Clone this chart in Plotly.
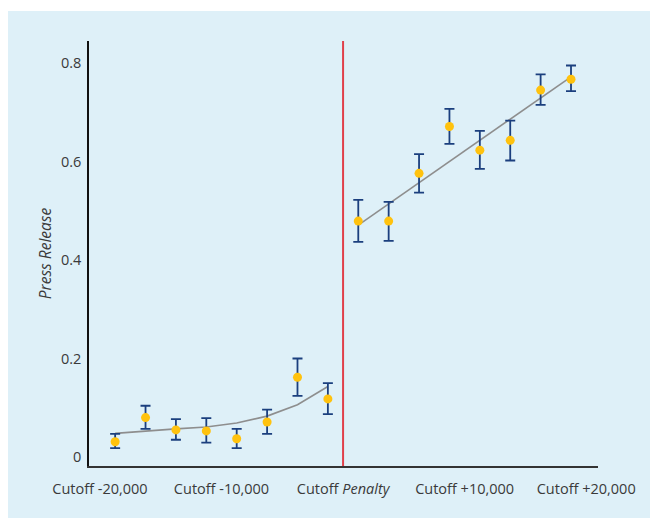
import plotly.graph_objects as go

# bin centres, thousands relative to cutoff
x_left = [-18.75, -16.25, -13.75, -11.25, -8.75, -6.25, -3.75, -1.25]
y_left = [0.031, 0.080, 0.055, 0.053, 0.037, 0.071, 0.162, 0.118]
hi_left = [0.047, 0.104, 0.077, 0.079, 0.057, 0.096, 0.200, 0.150]
lo_left = [0.018, 0.057, 0.035, 0.029, 0.018, 0.047, 0.124, 0.087]
fit_left = [0.048, 0.053, 0.057, 0.061, 0.069, 0.083, 0.106, 0.143]

x_right = [1.25, 3.75, 6.25, 8.75, 11.25, 13.75, 16.25, 18.75]
y_right = [0.479, 0.479, 0.576, 0.671, 0.623, 0.643, 0.745, 0.767]
hi_right = [0.522, 0.518, 0.615, 0.707, 0.662, 0.683, 0.777, 0.795]
lo_right = [0.437, 0.439, 0.537, 0.636, 0.585, 0.602, 0.715, 0.743]
fit_right = [0.471, 0.514, 0.557, 0.600, 0.643, 0.686, 0.729, 0.772]

tick_vals = [-20, -10, 0, 10, 20]
tick_text = ["Cutoff -20,000", "Cutoff -10,000", "Cutoff <i>Penalty</i>",
             "Cutoff +10,000", "Cutoff +20,000"]
y_ticks = [0, 0.2, 0.4, 0.6, 0.8]

FONT = "Open Sans"
TXT = "#3a3a3a"
GOLD = "#FFC20E"
NAVY = "#1B3F7E"
GREY = "#8E8E8E"

fig = go.Figure()

for xs, fit in [(x_left, fit_left), (x_right, fit_right)]:
    fig.add_trace(go.Scatter(x=xs, y=fit, mode="lines",
                             line=dict(color=GREY, width=1.6),
                             showlegend=False, hoverinfo="skip"))

for xs, ys, hi, lo in [(x_left, y_left, hi_left, lo_left),
                       (x_right, y_right, hi_right, lo_right)]:
    fig.add_trace(go.Scatter(
        x=xs, y=ys, mode="markers",
        marker=dict(color=GOLD, size=9),
        error_y=dict(type="data", symmetric=False,
                     array=[h - v for h, v in zip(hi, ys)],
                     arrayminus=[v - l for v, l in zip(ys, lo)],
                     color=NAVY, thickness=1.8, width=5),
        showlegend=False))

# background panel
fig.add_shape(type="rect", xref="paper", yref="paper",
              x0=-0.2, x1=1.2, y0=-0.2, y1=1.0706,
              fillcolor="#DEF0F8", line=dict(width=0), layer="below")

# cutoff line
fig.add_shape(type="line", xref="x", yref="paper", x0=0, x1=0, y0=0, y1=1,
              line=dict(color="#E0404A", width=2))

fig.update_layout(
    width=658, height=518,
    margin=dict(l=81, r=68, t=33, b=60),
    paper_bgcolor="white",
    plot_bgcolor="rgba(0,0,0,0)",
    font=dict(family=FONT, size=14, color=TXT),
    xaxis=dict(range=[-20.9, 20.97], tickvals=tick_vals, ticktext=tick_text,
               showgrid=False, zeroline=False, showline=True,
               linecolor="#333333", linewidth=2, ticks="",
               ticklabelstandoff=9,
               tickfont=dict(family=FONT, size=14.5, color=TXT)),
    yaxis=dict(range=[-0.0183, 0.8447], tickvals=y_ticks,
               showgrid=False, zeroline=False, showline=True,
               linecolor="#111111", linewidth=1.5, ticks="",
               ticklabelstandoff=3,
               tickfont=dict(family=FONT, size=14.5, color=TXT),
               title=dict(text="<i>Press Release</i>", standoff=6,
                          font=dict(family=FONT, size=15.5, color=TXT))),
)

fig.write_html("out.html")
